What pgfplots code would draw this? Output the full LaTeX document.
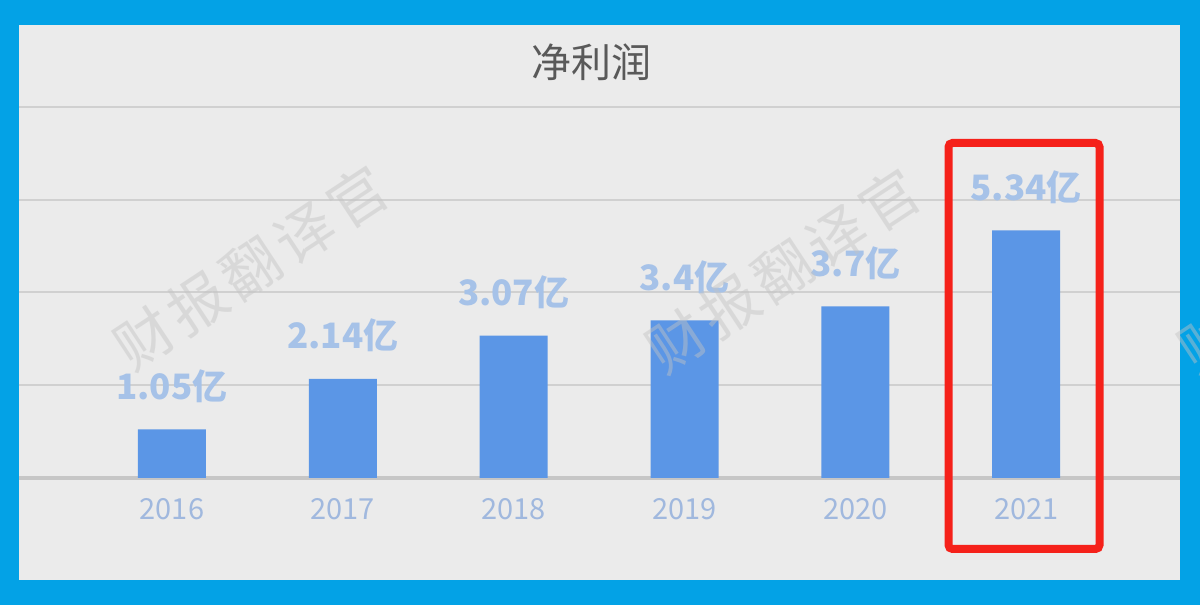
\documentclass[border=0pt]{standalone}
\usepackage{fontspec}
\setmainfont{Noto Sans CJK SC}
\usepackage{pgfplots}
\pgfplotsset{compat=1.18}
\definecolor{frameblue}{RGB}{3,162,230}
\definecolor{panel}{RGB}{235,235,235}
\definecolor{barblue}{RGB}{91,150,230}
\definecolor{lblblue}{RGB}{166,194,232}
\definecolor{tickblue}{RGB}{160,184,222}
\definecolor{gridgray}{RGB}{208,208,208}
\definecolor{basegray}{RGB}{198,198,198}
\definecolor{titlegray}{RGB}{89,89,89}
\definecolor{redbox}{RGB}{245,33,26}
\definecolor{wmgray}{RGB}{195,195,195}
\begin{document}
\begin{tikzpicture}
\useasboundingbox (0,0) rectangle (600pt,302.5pt);
\fill[frameblue] (0,0) rectangle (600pt,302.5pt);
\fill[panel] (9.5pt,12.5pt) rectangle (590pt,290pt);
\node[text=titlegray,font=\fontsize{20}{24}\selectfont] at (295.5pt,271.5pt) {净利润};
\begin{axis}[
  at={(9.5pt,63.5pt)}, anchor=south west,
  scale only axis, width=580.5pt, height=185.5pt,
  xmin=-0.895, xmax=5.90, ymin=0, ymax=8,
  axis line style={draw=none},
  tick style={draw=none},
  ytick={2,4,6,8}, yticklabels={},
  ymajorgrids,
  grid style={gridgray, line width=1pt},
  extra y ticks={0}, extra y tick labels={},
  extra y tick style={grid style={basegray, line width=1.8pt}},
  xtick={0,1,2,3,4,5},
  xticklabels={2016,2017,2018,2019,2020,2021},
  xticklabel style={text=tickblue, font=\fontsize{14.5}{16}\selectfont, anchor=base, yshift=-21pt},
  clip=false,
]
\addplot[ybar, bar width=34pt, fill=barblue, draw=none,
  nodes near coords, point meta=explicit symbolic,
  every node near coord/.append style={text=lblblue, font=\fontsize{17.5}{20}\selectfont\bfseries, anchor=base, yshift=15pt}]
  coordinates {
  (0,1.05) [1.05亿]
  (1,2.14) [2.14亿]
  (2,3.07) [3.07亿]
  (3,3.40) [3.4亿]
  (4,3.70) [3.7亿]
  (5,5.34) [5.34亿]
  };
\end{axis}
\draw[redbox, line width=4pt, rounded corners=2pt] (474.25pt,28pt) rectangle (549.75pt,231pt);
\begin{scope}
\clip (0,0) rectangle (600pt,302.5pt);
\tikzset{wm/.style={rotate=33.4, text=wmgray, text opacity=0.45, font=\fontsize{29}{29}\selectfont}}
\node[wm] at (125.5pt,168.5pt) {财\hspace{3pt}报\hspace{3pt}翻\hspace{3pt}译\hspace{3pt}官};
\node[wm] at (391.5pt,167pt) {财\hspace{3pt}报\hspace{3pt}翻\hspace{3pt}译\hspace{3pt}官};
\node[wm] at (657.5pt,167pt) {财\hspace{3pt}报\hspace{3pt}翻\hspace{3pt}译\hspace{3pt}官};
\end{scope}
\end{tikzpicture}
\end{document}
